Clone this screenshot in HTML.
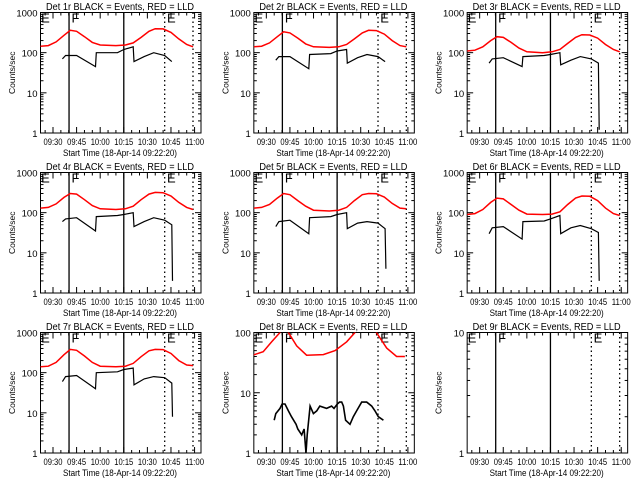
<!DOCTYPE html>
<html><head><meta charset="utf-8"><style>
html,body{margin:0;padding:0;background:#fff}
svg{display:block}
text{font-family:"Liberation Sans",sans-serif;fill:#000}
</style></head><body>
<svg id="chart" width="640" height="480" viewBox="0 0 640 480" xmlns="http://www.w3.org/2000/svg"></svg>
<script>
// time in minutes after 09:00
const xTickTimes = [30,45,60,75,90,105,120];
const xTickLabels = ["09:30","09:45","10:00","10:15","10:30","10:45","11:00"];
const solidLines = [40.2,75];
const dottedLines = [101,119];
const markerTimes = [21.5,40.8,101.5];
const markerLabels = ["E","F","E"];
const detNames = ["1r","2r","3r","4r","5r","6r","7r","8r","9r"];
const redT = [22,27,32,37,41,45,50,55,60,70,76,81,86,91,95,100,105,110,115,119];
const blackT = [36,38,45,57,57.5,71,75,81,81.5,88,94,101,105.5,106];
const red1 = [145,150,185,270,360,340,250,180,155,150,155,175,240,340,395,390,320,220,160,140];
const black1 = [70,85,85,45,100,100,120,140,60,80,100,85,60,null];
const red2 = [140,145,175,250,330,310,230,165,140,135,140,160,220,310,360,355,290,200,150,140];
const black2 = [65,80,80,40,90,95,110,120,55,75,90,80,60,null];
const red3 = [110,115,140,200,250,240,180,130,105,100,105,120,170,240,280,275,230,160,120,105];
const black3 = [55,70,75,45,80,85,90,100,50,65,80,70,55,1.2];
const red4 = [130,135,165,240,300,290,210,150,125,120,125,145,210,290,320,315,260,180,135,120];
const black4 = [60,70,75,35,80,85,90,100,45,60,75,65,50,2];
const red5 = [130,135,160,230,300,280,200,145,115,110,115,135,200,280,300,295,245,170,130,125];
const black5 = [45,60,65,30,75,80,90,100,40,55,60,55,40,4];
const red6 = [90,95,120,180,230,220,160,115,92,90,92,105,160,230,260,255,200,130,95,85];
const black6 = [30,42,45,22,60,62,70,85,30,42,48,40,32,2];
const red7 = [140,145,180,280,380,360,260,180,145,140,145,170,250,350,380,375,300,200,155,150];
const black7 = [60,80,85,40,100,105,120,130,50,70,80,75,55,8];
const red8T = [21.3,28,33.4,38.7,41,44,49.3,55.6,66.2,73.7,81.1,86.4,92,97,100,106.5,112.8,118.1];
const red8V = [42,48,70,100,150,100,60,42,43,50,70,100,150,150,100,55,40,40];
const black8T = [35,36,38.7,40,41.9,44,46,48.9,50,52.5,54,55.2,56,57.8,59.9,62,64,68.3,71.5,73,75.1,76.5,77.9,79,80.4,83.2,85.3,87.4,90.6,93.8,97,99.1,101.2,104.4];
const black8V = [3.5,4.5,5.5,6.5,6.5,5,4,3,2.5,2,2.5,1,2,6,4.5,5,6,5.5,6,5.5,6.5,7,7,6,3.5,3,4,5,7,7,6,5,4,3.5];
const yMaxDec = [3,3,3,3,3,3,3,2,1];
const reds = [red1,red2,red3,red4,red5,red6,red7,null,null];
const blacks = [black1,black2,black3,black4,black5,black6,black7,null,null];

const NS="http://www.w3.org/2000/svg";
const svg=document.getElementById('chart');
function mk(tag,attrs,parent){const e=document.createElementNS(NS,tag);for(const k in attrs)e.setAttribute(k,attrs[k]);parent.appendChild(e);return e;}

for(let p=0;p<9;p++){
  const ox=(p%3)*213.33, oy=Math.floor(p/3)*160;
  const L=ox+40.5,R=ox+201,T=oy+12.5,B=oy+133;
  const xs=t=>ox+53+(t-30)*1.573;
  const dec=yMaxDec[p];
  const ys=v=>B-(Math.log10(v)/dec)*(B-T);
  const g=mk('g',{},svg);
  
  
  const cid='clip'+p;
  const cp=mk('clipPath',{id:cid},g);
  mk('rect',{x:L,y:T,width:R-L,height:B-T},cp);
  const title=mk('text',{x:ox+46,y:oy+10,'font-size':'10',textLength:'148',lengthAdjust:'spacingAndGlyphs'},g);
  title.textContent='Det '+detNames[p]+' BLACK = Events, RED = LLD';
  
  
  const frame=mk('rect',{x:L,y:T,width:R-L,height:B-T,fill:'none',stroke:'#000','stroke-width':1},g);
  
  
  for(let d=0;d<=dec;d++){
    const y=ys(Math.pow(10,d));
    mk('line',{x1:L,x2:L+6,y1:y,y2:y,stroke:'#000'},g);
    mk('line',{x1:R,x2:R-6,y1:y,y2:y,stroke:'#000'},g);
    const lab=mk('text',{x:L-3,y:y+4,'font-size':'9.5','text-anchor':'end'},g);
    lab.textContent=String(Math.pow(10,d));
    
    
    if(d<dec){for(let m=2;m<10;m++){const yy=ys(m*Math.pow(10,d));
      mk('line',{x1:L,x2:L+3,y1:yy,y2:yy,stroke:'#000'},g);
      mk('line',{x1:R,x2:R-3,y1:yy,y2:yy,stroke:'#000'},g);}}
  }
  const yt=mk('text',{x:0,y:0,'font-size':'8.5','text-anchor':'middle',transform:`translate(${ox+15},${(T+B)/2}) rotate(-90)`},g);
  yt.textContent='Counts/sec';
  
  
  for(let t=20;t<=124;t+=5){const x=xs(t); if(x<L||x>R)continue;
    const major=xTickTimes.includes(t);const len=major?6:3;
    mk('line',{x1:x,x2:x,y1:B,y2:B-len,stroke:'#000'},g);
    mk('line',{x1:x,x2:x,y1:T,y2:T+len,stroke:'#000'},g);}
  xTickTimes.forEach((t,i)=>{const lab=mk('text',{x:xs(t)-9.5,y:B+12,'font-size':'9',textLength:'19',lengthAdjust:'spacingAndGlyphs'},g);
    lab.textContent=xTickLabels[i];
    
    });
  const xt=mk('text',{x:ox+63,y:B+23,'font-size':'9.5',textLength:'114',lengthAdjust:'spacingAndGlyphs'},g);
  xt.textContent='Start Time (18-Apr-14 09:22:20)';
  
  
  solidLines.forEach(t=>{const l=mk('line',{x1:xs(t),x2:xs(t),y1:T,y2:B,stroke:'#000','stroke-width':1.3},g);
    
    });
  dottedLines.forEach(t=>{const l=mk('line',{x1:xs(t),x2:xs(t),y1:T,y2:B,stroke:'#000','stroke-width':1.3,'stroke-dasharray':'1.5,3'},g);
    
    });
  markerTimes.forEach((t,i)=>{const m=mk('text',{x:xs(t)+1.5,y:T+10,'font-size':'13','font-weight':'normal'},g);
    m.textContent=markerLabels[i];
    
    });
  const cg=mk('g',{'clip-path':`url(#${cid})`},g);
  function line(T_,V_,col,w,name){let d='';let pen=false;
    T_.forEach((t,i)=>{const v=V_[i];if(v==null){pen=false;return;}d+=(pen?'L':'M')+xs(t).toFixed(1)+' '+ys(v).toFixed(1)+' ';pen=true;});
    const pth=mk('path',{d:d,fill:'none',stroke:col,'stroke-width':w},cg);
    
    }
  if(reds[p]){line(redT,reds[p],'#f00',1.5,'lld-series');line(blackT,blacks[p],'#000',1.2,'events-series');}
  if(p===7){line(red8T,red8V,'#f00',1.5,'lld-series');line(black8T,black8V,'#000',1.6,'events-series');}
}
</script>
</body></html>
